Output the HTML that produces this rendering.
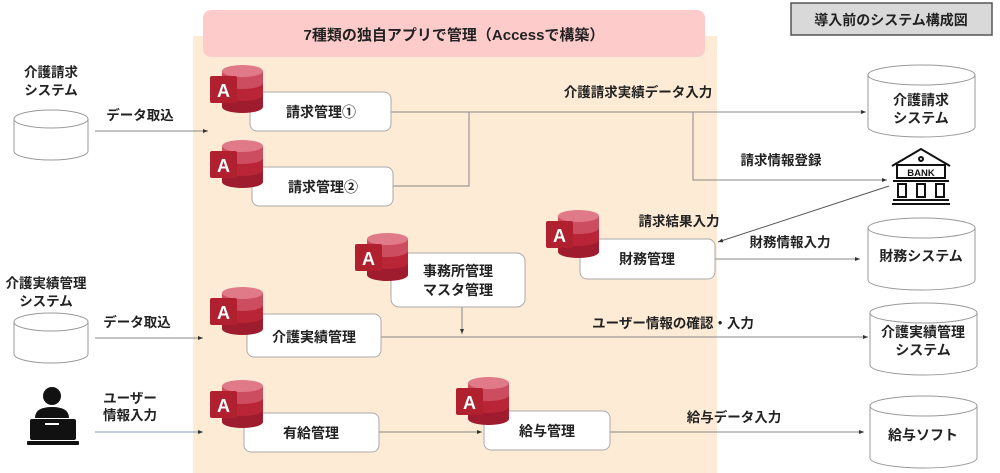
<!DOCTYPE html>
<html><head><meta charset="utf-8"><style>
html,body{margin:0;padding:0;background:#fff}
svg{display:block}
svg text{font-family:"Liberation Sans","Noto Sans CJK JP",sans-serif;font-weight:bold}
</style></head><body>
<svg width="1000" height="473" viewBox="0 0 1000 473" xmlns="http://www.w3.org/2000/svg">
<defs>
<marker id="ar" markerWidth="6" markerHeight="6" refX="5" refY="3" orient="auto" markerUnits="userSpaceOnUse"><path d="M0,1 L5,3 L0,5 z" fill="#333"/></marker>
<g id="acc">
  <path d="M12,6 L12,42 A20.5,6 0 0 0 53,42 L53,6 z" fill="#9e1c2e"/>
  <path d="M12,6 L12,30 A20.5,6 0 0 0 53,30 L53,6 z" fill="#b92436"/>
  <path d="M12,6 L12,18 A20.5,6 0 0 0 53,18 L53,6 z" fill="#cd4d60"/>
  <ellipse cx="32.5" cy="6" rx="20.5" ry="6" fill="#e07a89"/>
  <rect x="0" y="11" width="27" height="27" rx="2" fill="#b0202f"/>
</g>
<g id="cyl">
  <path d="M0,10 L0,62 A53.5,10 0 0 0 107,62 L107,10" fill="#fff" stroke="#999" stroke-width="1"/>
  <ellipse cx="53.5" cy="10" rx="53.5" ry="10" fill="#fff" stroke="#999" stroke-width="1"/>
</g>
<g id="cyls">
  <path d="M0,9 L0,41 A37,9 0 0 0 74,41 L74,9" fill="#fff" stroke="#999" stroke-width="1"/>
  <ellipse cx="37" cy="9" rx="37" ry="9" fill="#fff" stroke="#999" stroke-width="1"/>
</g>
</defs>

<rect x="193" y="36" width="524" height="437" fill="#fdebd6"/>
<rect x="203" y="10" width="502" height="47" rx="8" fill="#fecbcb"/>
<text x="454" y="40" font-size="15" text-anchor="middle" fill="#222">7種類の独自アプリで管理（Accessで構築）</text>

<rect x="791" y="3" width="201" height="32" fill="#d9d9d9" stroke="#555" stroke-width="1.5"/>
<text x="891" y="25" font-size="14" text-anchor="middle" fill="#222">導入前のシステム構成図</text>

<g stroke="#888" stroke-width="1" fill="none">
<line x1="95" y1="131" x2="208" y2="131" marker-end="url(#ar)"/>
<line x1="95" y1="338" x2="203" y2="338" marker-end="url(#ar)"/>
<line x1="95" y1="432" x2="203" y2="432" stroke="#8a9bb0" marker-end="url(#ar)"/>
<line x1="391" y1="112" x2="866" y2="112" marker-end="url(#ar)"/>
<polyline points="393,186 469,186 469,112"/>
<polyline points="693,112 693,180 887,180" marker-end="url(#ar)"/>
<line x1="889" y1="186" x2="718" y2="242" stroke="#555" marker-end="url(#ar)"/>
<line x1="715" y1="259" x2="860" y2="259" marker-end="url(#ar)"/>
<line x1="381" y1="337" x2="868" y2="337" marker-end="url(#ar)"/>
<line x1="462" y1="307" x2="462" y2="334" marker-end="url(#ar)"/>
<line x1="379" y1="432" x2="482" y2="432" marker-end="url(#ar)"/>
<line x1="610" y1="432" x2="864" y2="432" marker-end="url(#ar)"/>
</g>

<g fill="#fff" stroke="#aaa" stroke-width="1">
<rect x="250" y="92" width="141" height="39" rx="7"/>
<rect x="252" y="167" width="141" height="39" rx="7"/>
<rect x="391" y="253" width="134" height="54" rx="8"/>
<rect x="580" y="239" width="135" height="40" rx="7"/>
<rect x="247" y="314" width="134" height="43" rx="7"/>
<rect x="244" y="413" width="135" height="39" rx="7"/>
<rect x="484" y="411" width="126" height="39" rx="7"/>
</g>

<g>
<use href="#acc" x="210" y="65"/><use href="#acc" x="210" y="140"/>
<use href="#acc" x="355" y="233"/><use href="#acc" x="546" y="210"/>
<use href="#acc" x="210" y="287"/><use href="#acc" x="210" y="380"/>
<use href="#acc" x="456" y="377"/>
</g>
<g fill="#fff" font-size="18" text-anchor="middle">
<text x="223.5" y="97">A</text><text x="223.5" y="172">A</text>
<text x="368.5" y="265">A</text><text x="559.5" y="242">A</text>
<text x="223.5" y="319">A</text><text x="223.5" y="412">A</text>
<text x="469.5" y="409">A</text>
</g>

<g font-size="14" fill="#222" text-anchor="middle">
<text x="321" y="117">請求管理①</text>
<text x="323" y="192">請求管理②</text>
<text x="458" y="276">事務所管理</text>
<text x="458" y="295">マスタ管理</text>
<text x="647" y="264">財務管理</text>
<text x="314" y="342">介護実績管理</text>
<text x="311" y="438">有給管理</text>
<text x="547" y="436">給与管理</text>
</g>

<use href="#cyls" x="14" y="110"/>
<use href="#cyls" x="14" y="313"/>
<g font-size="13.5" fill="#222" text-anchor="middle">
<text x="51" y="77">介護請求</text><text x="51" y="95">システム</text>
<text x="46" y="288">介護実績管理</text><text x="46" y="306">システム</text>
<text x="140" y="120">データ取込</text>
<text x="137" y="327">データ取込</text>
<text x="130" y="403">ユーザー</text><text x="130" y="420">情報入力</text>
<text x="638" y="97">介護請求実績データ入力</text>
<text x="781" y="165">請求情報登録</text>
<text x="679" y="226">請求結果入力</text>
<text x="790" y="247">財務情報入力</text>
<text x="673" y="328">ユーザー情報の確認・入力</text>
<text x="734" y="422">給与データ入力</text>
</g>

<g fill="#111">
<circle cx="52" cy="396" r="9"/>
<path d="M35,418 Q35,407 52,407 Q69,407 69,418 z"/>
<rect x="30" y="419" width="46" height="21" rx="2"/>
<rect x="27" y="441" width="52" height="4" rx="1"/>
</g>
<rect x="45" y="423" width="14" height="2" fill="#fff"/>

<use href="#cyl" x="868" y="65"/>
<use href="#cyl" x="868" y="218"/>
<use href="#cyl" x="870" y="303"/>
<use href="#cyl" x="870" y="396"/>
<g font-size="14" fill="#222" text-anchor="middle">
<text x="921" y="105">介護請求</text><text x="921" y="123">システム</text>
<text x="921" y="261">財務システム</text>
<text x="923" y="337">介護実績管理</text><text x="923" y="355">システム</text>
<text x="923" y="440">給与ソフト</text>
</g>

<g fill="none" stroke="#111" stroke-width="2">
<path d="M892,166 L921,149 L950,166"/>
<rect x="897" y="165" width="48" height="13"/>
<circle cx="921" cy="159" r="2"/>
<line x1="893" y1="181" x2="949" y2="181"/>
<rect x="898" y="184" width="8" height="13"/>
<rect x="917" y="184" width="8" height="13"/>
<rect x="936" y="184" width="8" height="13"/>
<line x1="893" y1="200" x2="949" y2="200"/>
<line x1="892" y1="204" x2="950" y2="204"/>
</g>
<text x="921" y="176" font-size="9.5" text-anchor="middle" fill="#111">BANK</text>
</svg>
</body></html>
